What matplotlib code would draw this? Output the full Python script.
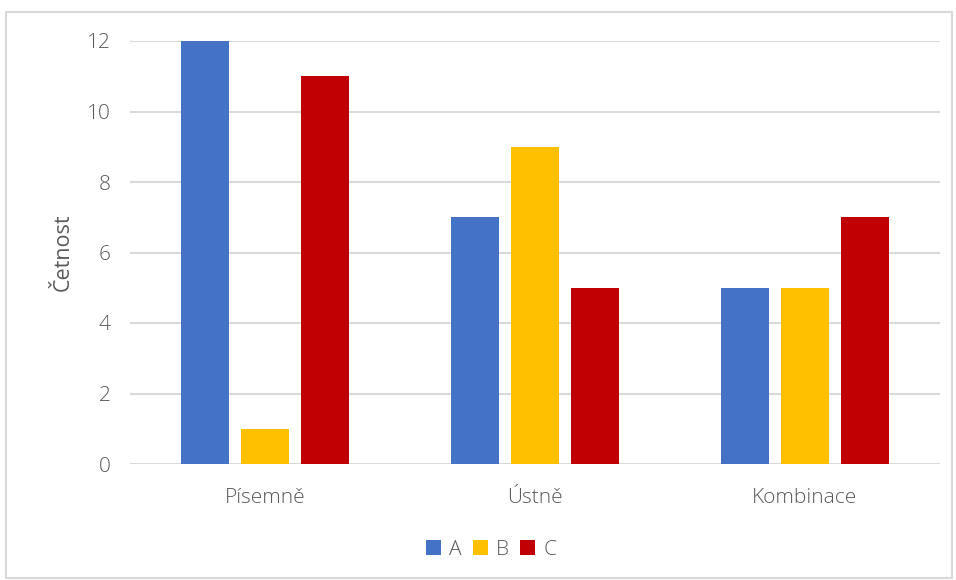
import numpy as np
import matplotlib.pyplot as plt
from matplotlib.patches import Rectangle

# Frequencies of answers A/B/C per exam form
categories = ["Písemně", "Ústně", "Kombinace"]
series_names = ["A", "B", "C"]
values_a = [12, 7, 5]
values_b = [1, 9, 5]
values_c = [11, 5, 7]

colors = ["#4472C4", "#FFC000", "#C00000"]
text_color = "#595959"
grid_color = "#D9D9D9"

plt.rcParams['font.family'] = ['Open Sans', 'DejaVu Sans']
plt.rcParams['font.weight'] = 'light'

fig = plt.figure(figsize=(9.56, 5.8), dpi=100)
ax = fig.add_axes([130 / 956, 1 - 464 / 580, 810 / 956, (464 - 41) / 580])

x = np.arange(len(categories))
step = 0.222
width = 0.178
for i, (name, vals) in enumerate(zip(series_names, [values_a, values_b, values_c])):
    ax.bar(x + (i - 1) * step, vals, width=width, color=colors[i], label=name, zorder=3)

ax.set_xlim(-0.5, 2.5)
ax.set_ylim(0, 12)
ax.set_yticks(range(0, 13, 2))
ax.set_xticks(x)
ax.set_xticklabels(categories)
ax.yaxis.grid(True, color=grid_color, linewidth=1.5, zorder=0)
ax.set_axisbelow(True)
for side in ["top", "right", "left", "bottom"]:
    ax.spines[side].set_visible(False)
ax.tick_params(length=0, colors=text_color, labelsize=15)
ax.tick_params(axis="y", pad=14)
ax.tick_params(axis="x", pad=17)
ax.set_ylabel("Četnost", color=text_color, fontsize=15.5, labelpad=9)

ax.legend(loc="center", bbox_to_anchor=(0.446, -(550 - 464) / 423), ncol=3, frameon=False,
          fontsize=15, handlelength=0.7, handleheight=0.7, handletextpad=0.4,
          columnspacing=0.55, labelcolor=text_color)

# light outline around the whole chart
fig.patches.append(Rectangle((6 / 956, 2 / 580), 946 / 956, 566 / 580, transform=fig.transFigure,
                             fill=False, edgecolor="#D9D9D9", linewidth=1.5))

fig.savefig("out.png", dpi=100)
